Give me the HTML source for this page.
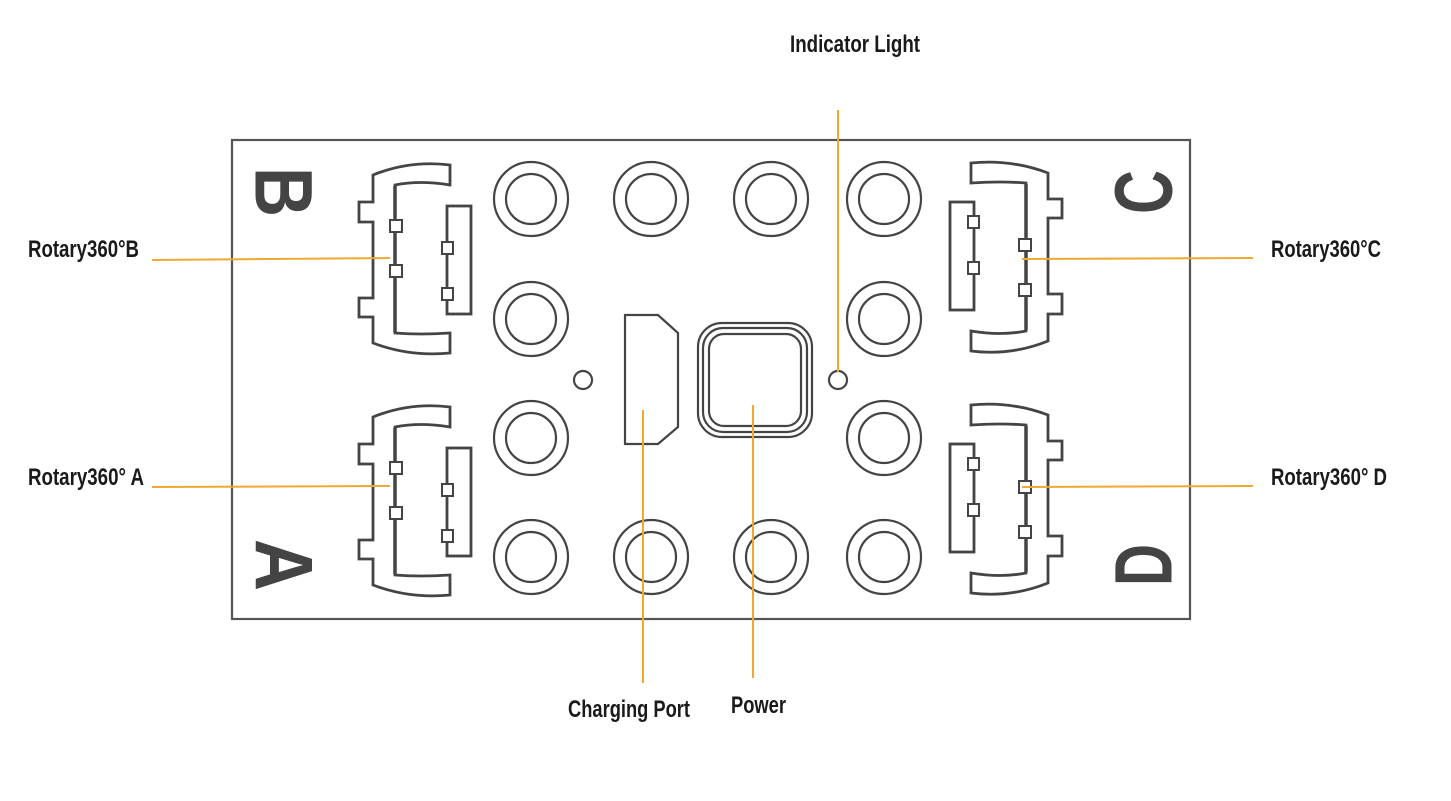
<!DOCTYPE html>
<html><head><meta charset="utf-8"><style>
html,body{margin:0;padding:0;background:#fff;}
svg{display:block;}
.t{font-family:"Liberation Sans Narrow","Liberation Sans",sans-serif;font-weight:bold;font-size:24px;fill:#1a1a1a;}
.L{font-family:"Liberation Sans",sans-serif;font-weight:bold;font-size:82px;fill:#444;}
</style></head><body>
<svg width="1451" height="801" viewBox="0 0 1451 801" xmlns="http://www.w3.org/2000/svg">
<defs>
<g id="conn" fill="none" stroke="#444" stroke-width="2.8">
  <path d="M450,165 Q410,160 373,175 L373,202 L359,202 L359,222 L373,222 L373,298 L359,298 L359,317 L373,317 L373,343 Q410,357 450,353 L450,333 Q420,335 395,333 L395,185 Q420,180 450,185 Z"/>
  <line x1="395" y1="186" x2="395" y2="332" stroke-width="3.5"/>
  <rect x="447" y="206" width="24" height="108"/>
  <rect x="390" y="220" width="12" height="12" fill="#fff" stroke-width="2"/>
  <rect x="390" y="265" width="12" height="12" fill="#fff" stroke-width="2"/>
  <rect x="442" y="242" width="11" height="12" fill="#fff" stroke-width="2"/>
  <rect x="442" y="288" width="11" height="12" fill="#fff" stroke-width="2"/>
</g>
<g id="hole" fill="none" stroke="#444" stroke-width="2.2">
  <circle r="37"/>
  <circle r="25"/>
</g>
</defs>
<rect x="232" y="140" width="958" height="479" fill="none" stroke="#555" stroke-width="2.2"/>

<use href="#conn"/>
<use href="#conn" transform="translate(0,242)"/>
<use href="#conn" transform="translate(1421,516) scale(-1,-1)"/>
<use href="#conn" transform="translate(1421,758) scale(-1,-1)"/>

<use href="#hole" x="531" y="199"/><use href="#hole" x="651" y="199"/><use href="#hole" x="771" y="199"/><use href="#hole" x="884" y="199"/>
<use href="#hole" x="531" y="319"/><use href="#hole" x="884" y="319"/>
<use href="#hole" x="531" y="438"/><use href="#hole" x="884" y="438"/>
<use href="#hole" x="531" y="557"/><use href="#hole" x="651" y="557"/><use href="#hole" x="771" y="557"/><use href="#hole" x="884" y="557"/>

<g fill="none" stroke="#444" stroke-width="2.2">
  <polygon points="625,315 658,315 678,333 678,427 658,444 625,444"/>
  <circle cx="583" cy="380" r="9"/>
  <circle cx="838" cy="380" r="9"/>
  <rect x="698" y="323" width="114" height="114" rx="24"/>
  <rect x="703" y="328" width="104" height="104" rx="20"/>
  <rect x="709" y="334" width="92" height="92" rx="15"/>
</g>

<g stroke="#f0a830" stroke-width="2" fill="none">
  <line x1="838" y1="110" x2="838" y2="372"/>
  <line x1="643" y1="410" x2="643" y2="683"/>
  <line x1="753" y1="405" x2="753" y2="678"/>
  <line x1="152" y1="260" x2="390" y2="258"/>
  <line x1="152" y1="487" x2="390" y2="486"/>
  <line x1="1022" y1="259" x2="1253" y2="258"/>
  <line x1="1022" y1="487" x2="1253" y2="486"/>
</g>

<text class="L" transform="translate(285,192) rotate(90)" x="0" y="29.5" text-anchor="middle" textLength="50" lengthAdjust="spacingAndGlyphs">B</text>
<text class="L" transform="translate(285,565) rotate(90)" x="0" y="29.5" text-anchor="middle" textLength="52" lengthAdjust="spacingAndGlyphs">A</text>
<text class="L" transform="translate(1142,192) rotate(-90)" x="0" y="29.5" text-anchor="middle" textLength="44" lengthAdjust="spacingAndGlyphs">C</text>
<text class="L" transform="translate(1142,565) rotate(-90)" x="0" y="29.5" text-anchor="middle" textLength="42" lengthAdjust="spacingAndGlyphs">D</text>

<text class="t" x="790" y="52" textLength="130" lengthAdjust="spacingAndGlyphs">Indicator Light</text>
<text class="t" x="28" y="257" textLength="111" lengthAdjust="spacingAndGlyphs">Rotary360°B</text>
<text class="t" x="28" y="485" textLength="116" lengthAdjust="spacingAndGlyphs">Rotary360° A</text>
<text class="t" x="1271" y="257" textLength="110" lengthAdjust="spacingAndGlyphs">Rotary360°C</text>
<text class="t" x="1271" y="485" textLength="116" lengthAdjust="spacingAndGlyphs">Rotary360° D</text>
<text class="t" x="568" y="717" textLength="122" lengthAdjust="spacingAndGlyphs">Charging Port</text>
<text class="t" x="731" y="713" textLength="55" lengthAdjust="spacingAndGlyphs">Power</text>
</svg>
</body></html>
